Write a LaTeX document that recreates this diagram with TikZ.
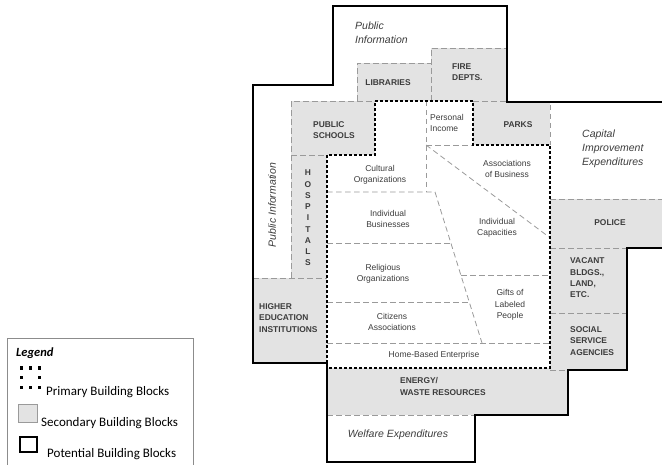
\documentclass[tikz,border=0pt]{standalone}
\usepackage{fontspec}
\setmainfont{Liberation Sans}
\newfontfamily\legendfont{Carlito}
\usepackage{tikz}
\usetikzlibrary{positioning}
\definecolor{blockgray}{HTML}{E3E3E3}
\definecolor{linegray}{HTML}{9A9A9A}
\definecolor{inkgray}{HTML}{3C3C3C}
\definecolor{framegray}{HTML}{8C8C8C}
\tikzset{
  secondary/.style={fill=blockgray,draw=none},
  divline/.style={draw=linegray,line width=0.8pt,dash pattern=on 5.5pt off 3.5pt},
  primary/.style={draw=black,line width=2.8pt,dash pattern=on 2.8pt off 2.2pt},
  potential/.style={draw=black,line width=2pt,line join=miter},
  blocklabel/.style={font=\fontsize{8.4}{11.3}\selectfont\bfseries,text=inkgray,align=left,inner sep=0pt},
  celltext/.style={font=\fontsize{8.5}{11.3}\selectfont,text=inkgray,align=center,inner sep=0pt},
  areatext/.style={font=\fontsize{10.5}{14}\selectfont\itshape,text=inkgray,align=left,inner sep=0pt},
  legendtext/.style={font=\legendfont\fontsize{13}{15}\selectfont,text=black,anchor=west,inner sep=0pt}
}
\begin{document}
\begin{tikzpicture}[x=1pt,y=-1pt]
  \useasboundingbox (0,0) rectangle (662,465);
  \clip (0,0) rectangle (662,465);

  % secondary building blocks
  \fill[secondary] (357,63) rectangle (431,101);
  \fill[secondary] (431,48) rectangle (507,101);
  \fill[secondary] (473,101) rectangle (550,145);
  \fill[secondary] (291,101) rectangle (375,155);
  \fill[secondary] (291,155) rectangle (327,278);
  \fill[secondary] (253,278) rectangle (327,363);
  \fill[secondary] (550,199) rectangle (670,248);
  \fill[secondary] (550,248) rectangle (627,370);
  \fill[secondary] (327,368) rectangle (568,415);
  \fill[secondary] (550,368) rectangle (568,370);

  % dashed divisions
  \draw[divline] (357,101) -- (357,63) -- (431,63);
  \draw[divline] (431,101) -- (431,48) -- (507,48);
  \draw[divline] (291,278) -- (291,101) -- (375,101);
  \draw[divline] (473,101) -- (550,101) -- (550,145);
  \draw[divline] (291,155) -- (327,155);
  \draw[divline] (253,278) -- (327,278);
  \draw[divline] (426,101) -- (426,192);
  \draw[divline] (426,145) -- (473,145);
  \draw[divline] (426,145) -- (549,237);
  \draw[divline] (327,192) -- (435,192) -- (482,343);
  \draw[divline] (327,243) -- (451,243);
  \draw[divline] (327,302) -- (469,302);
  \draw[divline] (461,275) -- (549,275);
  \draw[divline] (327,343) -- (549,343);
  \draw[divline] (550,199) -- (670,199);
  \draw[divline] (550,248) -- (627,248);
  \draw[divline] (550,313) -- (627,313);
  \draw[divline] (550,370) -- (568,370);
  \draw[divline] (327,415) -- (475,415);

  % primary building blocks
  \draw[primary] (375,101) -- (473,101) -- (473,145) -- (550,145) -- (550,368)
    -- (327,368) -- (327,155) -- (375,155) -- cycle;

  % potential building blocks
  \draw[potential] (253,363) -- (253,85) -- (333,85) -- (333,6) -- (507,6) -- (507,102)
    -- (670,102) -- (670,248) -- (627,248) -- (627,370) -- (568,370) -- (568,415)
    -- (475,415) -- (475,462) -- (327,462) -- (327,363) -- cycle;

  % labels
  \node[areatext] (pubinfotop) at (355,33) [anchor=west] {Public\\Information};
  \node[blocklabel] (libraries) at (388,83) {LIBRARIES};
  \node[blocklabel,anchor=west] (firedepts) at (452,72.5) {FIRE\\DEPTS.};
  \node[blocklabel,anchor=west] (pubschools) at (313,130) {PUBLIC\\SCHOOLS};
  \node[celltext,align=left,anchor=west] (income) at (430,123) {Personal\\Income};
  \node[blocklabel] (parks) at (518,125) {PARKS};
  \node[areatext,anchor=west] (capital) at (582,149) {Capital\\Improvement\\Expenditures};
  \node[areatext,rotate=90] (pubinfoleft) at (272,205) {Public Information};
  \foreach \ch [count=\i] in {H,O,S,P,I,T,A,L,S}
    \node[blocklabel] (hosp\i) at (308,{173+(\i-1)*11.25}) {\ch};
  \node[celltext] (cultural) at (380,174.5) {Cultural\\Organizations};
  \node[celltext] (assocbus) at (507,169) {Associations\\of Business};
  \node[celltext] (indbus) at (388,219) {Individual\\Businesses};
  \node[celltext] (indcap) at (497,227.5) {Individual\\Capacities};
  \node[blocklabel] (police) at (610,223) {POLICE};
  \node[celltext] (religious) at (383,273.5) {Religious\\Organizations};
  \node[blocklabel,anchor=west] (vacant) at (570,278) {VACANT\\BLDGS.,\\LAND,\\ETC.};
  \node[celltext] (gifts) at (510,305) {Gifts of\\Labeled\\People};
  \node[celltext] (citizens) at (392,322) {Citizens\\Associations};
  \node[blocklabel,anchor=west] (highered) at (259,318) {HIGHER\\EDUCATION\\INSTITUTIONS};
  \node[blocklabel,anchor=west] (social) at (570,341) {SOCIAL\\SERVICE\\AGENCIES};
  \node[celltext] (homebased) at (434,355) {Home-Based Enterprise};
  \node[blocklabel,anchor=west] (energy) at (400,386.5) {ENERGY/\\WASTE RESOURCES};
  \node[areatext] (welfare) at (398,435) {Welfare Expenditures};

  % legend
  \draw[framegray,line width=0.8pt] (7,338) rectangle (193,470);
  \node[legendtext,font=\legendfont\fontsize{12.5}{14}\selectfont\bfseries\itshape] (legendhead) at (16,353) {Legend};
  \foreach \dx/\dy in {0/0,1/0,2/0,0/1,2/1,0/2,1/2,2/2}
    \fill ({19.5+\dx*9},{366.5+\dy*9.5}) rectangle ++(3.2,3.2);
  \node[legendtext] (primarytext) at (46,392) {Primary Building Blocks};
  \draw[fill=blockgray,draw=linegray,line width=0.6pt] (18,404) rectangle (37,422);
  \node[legendtext] (secondarytext) at (41,423) {Secondary Building Blocks};
  \draw[potential,line width=1.8pt] (20,437) rectangle (37,452);
  \node[legendtext] (potentialtext) at (47,454) {Potential Building Blocks};
\end{tikzpicture}
\end{document}
